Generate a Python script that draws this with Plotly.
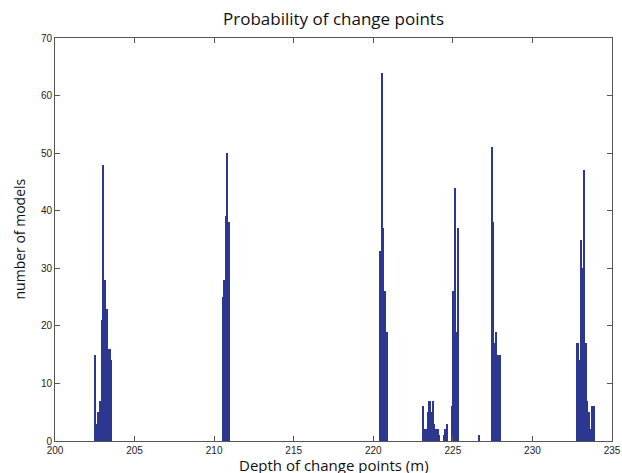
import plotly.graph_objects as go

# Bin centres (m) and counts
depth = [
    202.55, 202.65, 202.75, 202.85, 202.95, 203.05, 203.15, 203.25, 203.35, 203.45, 203.55,
    210.55, 210.65, 210.75, 210.85, 210.95,
    220.45, 220.55, 220.65, 220.75, 220.85,
    223.15, 223.25, 223.35, 223.45, 223.55, 223.65, 223.75, 223.85, 223.95, 224.05, 224.15,
    224.45, 224.55, 224.65,
    224.95, 225.05, 225.15, 225.25, 225.35,
    226.65,
    227.45, 227.55, 227.65, 227.75, 227.85, 227.95,
    232.85, 232.95, 233.05, 233.15, 233.25, 233.35, 233.45, 233.55, 233.65, 233.75, 233.85,
]
count = [
    15, 3, 5, 7, 21, 48, 28, 23, 16, 16, 14,
    25, 28, 39, 50, 38,
    33, 64, 37, 26, 19,
    6, 2, 2, 5, 7, 5, 7, 3, 2, 2, 1,
    1, 2, 3,
    6, 26, 44, 19, 37,
    1,
    51, 38, 17, 19, 15, 15,
    17, 14, 35, 30, 47, 17, 7, 5, 2, 6, 6,
]
bin_width = 0.1

x_ticks = [200, 205, 210, 215, 220, 225, 230, 235]
y_ticks = [0, 10, 20, 30, 40, 50, 60, 70]

fig = go.Figure()
fig.add_trace(go.Bar(
    x=depth, y=count, width=[bin_width * 1.02] * len(depth),
    marker=dict(color="#2b3790", line=dict(width=0)),
    hoverinfo="x+y",
))

axis_common = dict(
    showline=True, linecolor="#555555", linewidth=1, mirror="ticks",
    ticks="inside", ticklen=5, tickcolor="#555555",
    showgrid=False, zeroline=False, automargin=False,
    tickfont=dict(family="Liberation Sans, Arial, sans-serif", size=10, color="#222222"),
)

title_font = dict(family="Open Sans, sans-serif", color="#111111")

fig.update_layout(
    width=622, height=473,
    margin=dict(l=55, r=10, t=38, b=32, autoexpand=False),
    paper_bgcolor="white", plot_bgcolor="white",
    bargap=0,
    showlegend=False,
    xaxis=dict(range=[200, 235], tickvals=x_ticks, ticktext=[str(v) for v in x_ticks],
               **axis_common),
    yaxis=dict(range=[0, 70], tickvals=y_ticks, ticktext=[str(v) for v in y_ticks],
               **axis_common),
    annotations=[
        dict(text="Probability of change points", xref="paper", yref="paper",
             x=0.5, y=1, yshift=20, xanchor="center", yanchor="middle",
             showarrow=False, font=dict(size=17, **title_font)),
        dict(text="Depth of change points (m)", xref="paper", yref="paper",
             x=0.5, y=0, yshift=-24, xanchor="center", yanchor="middle",
             showarrow=False, font=dict(size=15, **title_font)),
        dict(text="number of models", xref="paper", yref="paper",
             x=0, y=0.5, xshift=-36, xanchor="center", yanchor="middle", textangle=-90,
             showarrow=False, font=dict(size=14, **title_font)),
    ],
)

fig.write_html(
    "out.html",
    config={"displayModeBar": False},
    post_script="document.body.style.margin='0';document.body.style.overflow='hidden';",
)
